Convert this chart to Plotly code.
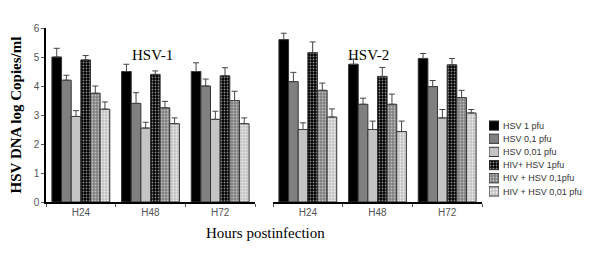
import plotly.graph_objects as go

categories = ["H24", "H48", "H72"]
series_names = ["HSV 1 pfu", "HSV 0,1 pfu", "HSV 0,01 pfu",
                "HIV+ HSV 1pfu", "HIV + HSV 0,1pfu", "HIV + HSV 0,01 pfu"]

hsv1_values = [
    [5.0, 4.5, 4.5],
    [4.2, 3.4, 4.0],
    [2.95, 2.55, 2.85],
    [4.9, 4.4, 4.35],
    [3.75, 3.25, 3.5],
    [3.2, 2.7, 2.7],
]
hsv1_errors = [
    [0.3, 0.25, 0.3],
    [0.17, 0.37, 0.24],
    [0.2, 0.2, 0.28],
    [0.15, 0.12, 0.28],
    [0.25, 0.22, 0.32],
    [0.25, 0.2, 0.2],
]
hsv2_values = [
    [5.6, 4.75, 4.95],
    [4.15, 3.37, 3.98],
    [2.5, 2.5, 2.9],
    [5.15, 4.33, 4.73],
    [3.85, 3.37, 3.6],
    [2.93, 2.43, 3.07],
]
hsv2_errors = [
    [0.22, 0.18, 0.17],
    [0.32, 0.21, 0.21],
    [0.23, 0.29, 0.29],
    [0.37, 0.31, 0.22],
    [0.25, 0.35, 0.25],
    [0.28, 0.36, 0.12],
]

bg_colors = ["#000000", "#808080", "#c4c4c4", "#000000", "#808080", "#c4c4c4"]
fg_colors = [None, None, None, "#8a8a8a", "#c0c0c0", "#eeeeee"]


def make_marker(i):
    marker = dict(color=bg_colors[i], line=dict(color="#333333", width=1))
    if fg_colors[i]:
        marker["pattern"] = dict(shape=".", bgcolor=bg_colors[i], fgcolor=fg_colors[i],
                                 fgopacity=1, size=3, solidity=0.3)
    return marker


# The page body has an 8px default margin, so the figure is shrunk by 8px.
W = 554.0  # plot area width in px
fig = go.Figure()

for panel, (vals, errs) in enumerate([(hsv1_values, hsv1_errors), (hsv2_values, hsv2_errors)]):
    xa = "x" if panel == 0 else "x2"
    ya = "y" if panel == 0 else "y2"
    for i, name in enumerate(series_names):
        fig.add_trace(go.Bar(
            x=categories, y=vals[i], name=name, marker=make_marker(i),
            showlegend=False, xaxis=xa, yaxis=ya, offsetgroup=str(i),
            error_y=dict(type="data", symmetric=False, array=errs[i],
                         arrayminus=[0] * len(errs[i]), color="#444444",
                         thickness=1, width=3),
        ))

# legend swatches drawn as a small horizontal bar chart
for i, name in enumerate(series_names):
    fig.add_trace(go.Bar(
        x=[1], y=[name], orientation="h", marker=make_marker(i), width=0.7,
        showlegend=False, xaxis="x3", yaxis="y3", hoverinfo="skip",
    ))

axis_font = dict(family="Arial, Liberation Sans, sans-serif", size=10, color="#555555")
xcommon = dict(showline=True, linecolor="black", linewidth=2, ticks="outside",
               tickson="boundaries", ticklen=3, tickcolor="#555555",
               tickfont=axis_font, showgrid=False, zeroline=False)
serif = dict(family="Liberation Serif, Times New Roman, serif", color="black")

fig.update_layout(
    width=592, height=245,
    margin=dict(l=38, r=0, t=20, b=51),
    barmode="group", bargap=0.17, bargroupgap=0,
    plot_bgcolor="white", paper_bgcolor="white",
    showlegend=False,
    xaxis=dict(domain=[0, 209 / W], anchor="y", **xcommon),
    xaxis2=dict(domain=[227 / W, 436 / W], anchor="y2", **xcommon),
    yaxis=dict(range=[0, 6], dtick=1, showline=True, linecolor="black", linewidth=1.5,
               ticks="outside", ticklen=3, tickcolor="#555555", tickfont=axis_font,
               showgrid=False, zeroline=False, anchor="x",
               title=dict(text="<b>HSV DNA log Copies/ml</b>", standoff=12,
                          font=dict(size=15, **serif))),
    yaxis2=dict(range=[0, 6], showline=False, showticklabels=False, showgrid=False,
                zeroline=False, ticks="", anchor="x2"),
    xaxis3=dict(domain=[443 / W, 453 / W], range=[0, 1], visible=False, anchor="y3"),
    yaxis3=dict(domain=[(202 - 198) / 174, (202 - 119) / 174], anchor="x3",
                autorange="reversed", side="right", showline=False, showgrid=False,
                zeroline=False, ticks="", ticklabelstandoff=3,
                tickfont=dict(family="Arial, Liberation Sans, sans-serif", size=9,
                              color="#333333")),
)

fig.add_annotation(text="HSV-1", x=(152 - 46) / W, y=0.905, xref="paper", yref="paper",
                   xanchor="center", showarrow=False, font=dict(size=15, **serif))
fig.add_annotation(text="HSV-2", x=(368 - 46) / W, y=0.905, xref="paper", yref="paper",
                   xanchor="center", showarrow=False, font=dict(size=15, **serif))
fig.add_annotation(text="Hours postinfection", x=(265 - 46) / W, y=-0.122, xref="paper",
                   yref="paper", xanchor="center", showarrow=False, yanchor="top",
                   font=dict(size=15, **serif))

fig.write_html("out.html")
